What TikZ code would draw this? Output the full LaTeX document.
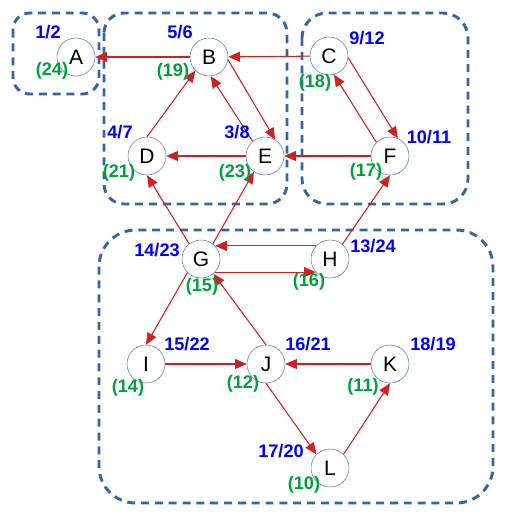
\documentclass[tikz,border=0pt]{standalone}
\usepackage{fontspec}
\setmainfont{Liberation Sans}
\usetikzlibrary{arrows.meta}
\definecolor{korkek}{RGB}{74,114,168}
\definecolor{keret}{RGB}{52,101,164}
\definecolor{piros}{RGB}{204,34,34}
\definecolor{zold}{RGB}{0,160,60}
\tikzset{
  csucs/.style={circle,draw=korkek,fill=white,minimum size=1.14cm,inner sep=0pt,
    font=\fontsize{17.9}{18}\selectfont},
  nyil/.style={draw=piros,line width=0.9pt,-{Triangle[length=10pt,width=8.5pt]},fill=piros},
  ido/.style={text=blue,font=\bfseries\fontsize{15.5}{16}\selectfont,inner sep=0pt},
  sorsz/.style={text=zold,font=\bfseries\fontsize{15.5}{16}\selectfont,inner sep=0pt},
  csop/.style={draw=keret,line width=2.5pt,dash pattern=on 6.8pt off 5pt},
}

\begin{document}
\begin{tikzpicture}[x=0.03cm,y=-0.03cm]
  \useasboundingbox (0,0) rectangle (510,521);
  % csoportok
  \draw[csop,rounded corners=0.5cm] (13,13) rectangle (99,94);
  \draw[csop,rounded corners=0.6cm] (104,13) rectangle (287,204);
  \draw[csop,rounded corners=0.75cm] (302,13) rectangle (468,204);
  \draw[csop,rounded corners=1.1cm] (99,230) rectangle (493,503);
  % csucsok
  \foreach \n/\x/\y in {A/76/57,B/209/57,C/329/56,D/147/156,E/265/156,F/390/156,
      G/201/259,H/330/259,I/146/364,J/266/364,K/390/364,L/330/468}
    \node[csucs] (\n) at (\x,\y) {\n};
  % elek
  \draw[nyil] (B) -- (A);
  \draw[nyil] (C) -- (B);
  \draw[nyil] (B.-8) -- (E.58);
  \draw[nyil] (E.130) -- (B.-85);
  \draw[nyil] (D.90) -- (B.-135);
  \draw[nyil] (E) -- (D);
  \draw[nyil] (C.-5) -- (F.66);
  \draw[nyil] (F.135) -- (C.-75);
  \draw[nyil] (F) -- (E);
  \draw[nyil] (G.128) -- (D.-90);
  \draw[nyil] (G.52) -- (E.-125);
  \draw[nyil] (H.137) -- (G.43);
  \draw[nyil] (G.-43) -- (H.-137);
  \draw[nyil] (H.50) -- (F.-90);
  \draw[nyil] (G.-135) -- (I.90);
  \draw[nyil] (J.90) -- (G.-50);
  \draw[nyil] (I) -- (J);
  \draw[nyil] (K) -- (J);
  \draw[nyil] (J.-90) -- (L.135);
  \draw[nyil] (L.45) -- (K.-90);
  % idok es sorszamok
  \foreach \n/\x/\y/\t in {A/48/32/1\slash2,B/180/32/5\slash6,C/367/38/9\slash12,
      D/120/132/4\slash7,E/237/132/3\slash8,F/429/137/10\slash11,G/157/250/14\slash23,
      H/373/246/13\slash24,I/187/344/15\slash22,J/308/344/16\slash21,K/433/344/18\slash19,
      L/281/451/17\slash20}
    \node[ido] (t\n) at (\x,\y) {\t};
  \foreach \n/\x/\y/\t in {A/52/71/24,B/173/72/19,C/315/83/18,D/119/173/21,E/235/173/23,
      F/366/172/17,G/202/287/15,H/309/282/16,I/128/388/14,J/243/384/12,K/363/387/11,
      L/304/485/10}
    \node[sorsz] (s\n) at (\x,\y) {(\t)};
\end{tikzpicture}
\end{document}
